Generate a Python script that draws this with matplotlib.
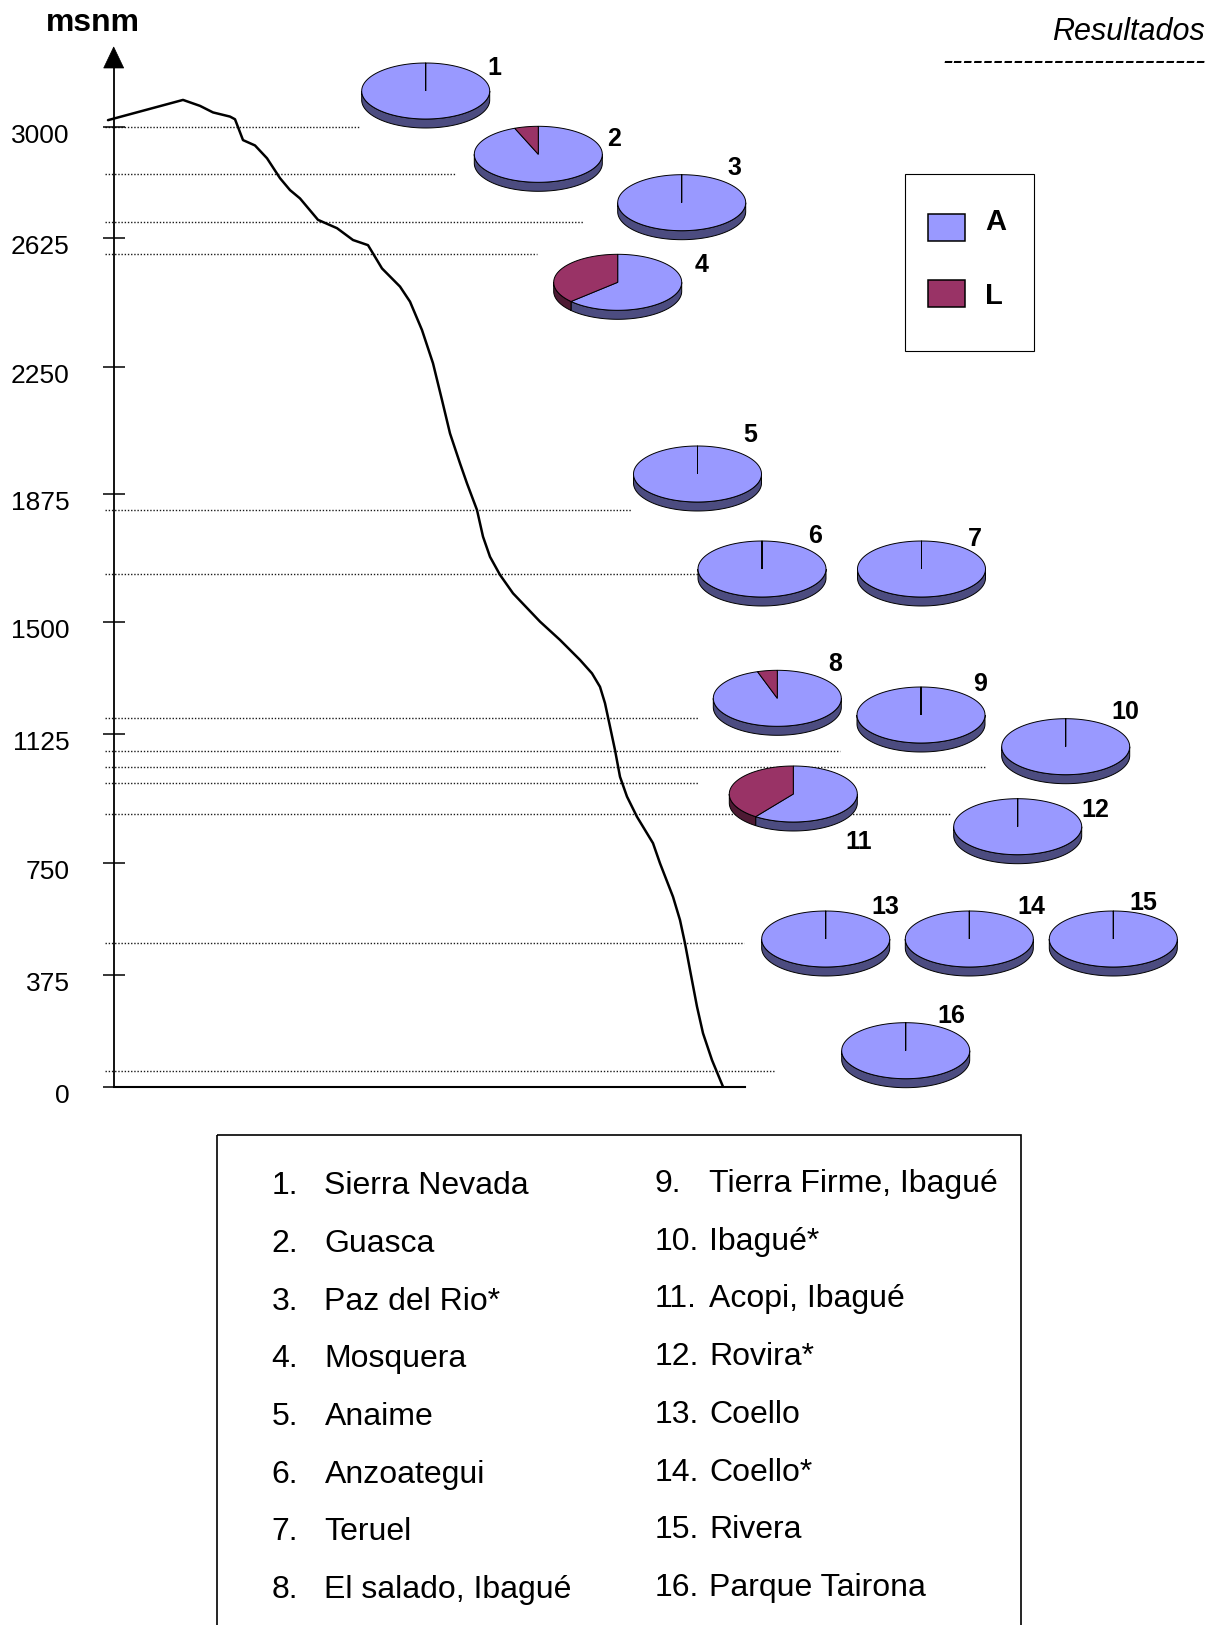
import numpy as np
import matplotlib
matplotlib.use("Agg")
import matplotlib.pyplot as plt
from matplotlib.patches import Polygon, Rectangle
from matplotlib.transforms import offset_copy

plt.rcParams['font.family'] = ['Liberation Sans', 'DejaVu Sans']

# ------------------------------------------------------------------ data
y_label = "msnm"
corner_title = "Resultados"
tick_values = [0, 375, 750, 1125, 1500, 1875, 2250, 2625, 3000]
tick_labels = ["0", "375", "750", "1125", "1500", "1875", "2250", "2625", "3000"]

# altitude profile (horizontal position, altitude in msnm)
profile_x = [108, 183, 200, 213, 230, 235, 243, 255, 267, 280, 290, 300, 318, 337, 353,
             368, 382, 400, 410, 422, 433, 442, 450, 460, 467, 477, 483, 490, 500, 513,
             540, 560, 580, 592, 600, 605, 610, 615, 620, 627, 637, 653, 660, 673, 680,
             685, 690, 697, 703, 712, 723]
profile_alt = [3022, 3090, 3070, 3048, 3034, 3025, 2955, 2937, 2894, 2827, 2787, 2759, 2687,
               2659, 2620, 2605, 2537, 2484, 2440, 2357, 2260, 2152, 2054, 1966, 1907, 1829,
               1751, 1692, 1639, 1585, 1502, 1441, 1374, 1329, 1284, 1229, 1151, 1079, 1001,
               943, 884, 807, 748, 636, 558, 480, 391, 268, 179, 89, 0]

# altitude of the dotted reference levels (msnm)
level_alt = [3000, 2840, 2679, 2578, 1829, 1641, 1178, 1077, 1030, 984, 891, 482, 53]

site_numbers = ["1.", "2.", "3.", "4.", "5.", "6.", "7.", "8.",
                "9.", "10.", "11.", "12.", "13.", "14.", "15.", "16."]
site_names = ["Sierra Nevada", "Guasca", "Paz del Rio*", "Mosquera", "Anaime",
              "Anzoategui", "Teruel", "El salado, Ibagué", "Tierra Firme, Ibagué",
              "Ibagué*", "Acopi, Ibagué", "Rovira*", "Coello", "Coello*", "Rivera",
              "Parque Tairona"]
pie_ids = ["1", "2", "3", "4", "5", "6", "7", "8", "9", "10", "11", "12", "13", "14", "15", "16"]
pct_A = [100, 94, 100, 63, 100, 100, 100, 95, 100, 100, 60, 100, 100, 100, 100, 100]
pct_L = [0, 6, 0, 37, 0, 0, 0, 5, 0, 0, 40, 0, 0, 0, 0, 0]
series_names = ["A", "L"]

# ------------------------------------------------------------------ layout / style
W, H = 1218, 1625
tick_rows = np.array([1086.7, 974.7, 862.7, 734.3, 622.3, 494.3, 366.7, 238.3, 126.7])
level_x0 = 105
level_x1 = [360, 456, 583, 537, 632, 698, 698, 840, 985, 698, 951, 744, 774]
pie_xy = [(425.7, 91), (538.3, 154.3), (681.7, 202.7), (617.7, 282.3), (697.5, 474),
          (762, 569), (921.5, 569), (777.3, 698.3), (921, 715), (1065.7, 746.7),
          (793.3, 794), (1017.7, 826.7), (825.7, 939), (969.3, 939), (1113.3, 939),
          (905.7, 1050.7)]
pie_label_xy = [(494, 66), (614, 137), (734, 166), (702, 263), (750.5, 433), (815, 534),
                (974.5, 537), (835.5, 662), (980, 682), (1125.7, 710), (859, 840),
                (1095, 808), (885.7, 905), (1031.7, 905.7), (1143.3, 901.7), (951.7, 1014)]
face_colors = ['#9999FF', '#993366']
side_colors = ['#4C4C80', '#4D1A33']

tv = np.array(tick_values, float)
top_slope = (tick_rows[-1] - tick_rows[-2]) / (tv[-1] - tv[-2])
bot_slope = (tick_rows[1] - tick_rows[0]) / (tv[1] - tv[0])


def fwd(v):
    v = np.asarray(v, float)
    p = np.interp(v, tv, tick_rows)
    p = np.where(v > tv[-1], tick_rows[-1] + (v - tv[-1]) * top_slope, p)
    p = np.where(v < tv[0], tick_rows[0] + (v - tv[0]) * bot_slope, p)
    return -p


def inv(q):
    p = -np.asarray(q, float)
    v = np.interp(p, tick_rows[::-1], tv[::-1])
    v = np.where(p < tick_rows[-1], tv[-1] + (p - tick_rows[-1]) / top_slope, v)
    v = np.where(p > tick_rows[0], tv[0] + (p - tick_rows[0]) / bot_slope, v)
    return v


fig = plt.figure(figsize=(W / 100, H / 100), dpi=100)
fig.patch.set_facecolor('white')

# ---------------- profile axes (x: horizontal position, y: altitude)
ax = fig.add_axes([0, 0, 1, 1])
ax.set_xlim(0, W)
ax.set_yscale('function', functions=(fwd, inv))
ax.set_ylim(float(inv(-H)), float(inv(0)))
ax.patch.set_visible(False)

ax.hlines(level_alt, level_x0, level_x1, colors='#1a1a1a', linewidth=1.0,
          linestyles=(0, (1, 1.3)), zorder=1)
ax.plot(profile_x, profile_alt, color='black', lw=1.8, solid_joinstyle='round',
        solid_capstyle='round', zorder=3)

axis_x = 113.7
arrow_base_alt = float(inv(-68))
ax.spines['left'].set_position(('data', axis_x))
ax.spines['left'].set_bounds(0, arrow_base_alt)
ax.spines['left'].set_linewidth(1.3)
ax.spines['bottom'].set_position(('data', 0))
ax.spines['bottom'].set_bounds(axis_x, 745)
ax.spines['bottom'].set_linewidth(1.5)
ax.spines['top'].set_visible(False)
ax.spines['right'].set_visible(False)
ax.set_xticks([])
ax.set_yticks(tick_values)
ax.tick_params(axis='y', direction='inout', length=15.8, width=1.1, labelleft=False,
               color='black')
lab_tr = offset_copy(ax.transData, fig=fig, x=0, y=-16, units='dots')
for v, lab in zip(tick_values, tick_labels):
    ax.text(69.5, v, lab, ha='right', va='baseline', fontsize=19, transform=lab_tr)

# ---------------- overlay axes in pixel coordinates for the decorations
ov = fig.add_axes([0, 0, 1, 1])
ov.set_xlim(0, W)
ov.set_ylim(H, 0)
ov.axis('off')
ov.patch.set_alpha(0)

ov.add_patch(Polygon([(axis_x - 10, 68), (axis_x + 10, 68), (axis_x, 47)], closed=True,
                     fc='black', ec='black', lw=0.5))
ov.text(46, 30.7, y_label, fontsize=23, fontweight='bold', ha='left', va='baseline')
ov.text(1205, 40, corner_title, fontsize=22, fontstyle='italic', ha='right', va='baseline')
ov.text(1206, 70, '-' * 26, fontsize=22, fontstyle='italic', ha='right', va='baseline')


def pie3d(cx, cy, values, a=64, b=28, d=9, n=160):
    total = float(sum(values))
    bounds = [-np.pi / 2]
    for val in values:
        bounds.append(bounds[-1] + 2 * np.pi * val / total)
    segs = list(zip(bounds[:-1], bounds[1:]))
    # side band (front half only)
    for (t0, t1), sc in zip(segs, side_colors):
        lo, hi = max(t0, 0.0), min(t1, np.pi)
        if hi > lo:
            t = np.linspace(lo, hi, n)
            xs = cx + a * np.cos(t)
            ys = cy + b * np.sin(t)
            pts = np.column_stack([np.r_[xs, xs[::-1]], np.r_[ys, ys[::-1] + d]])
            ov.add_patch(Polygon(pts, closed=True, fc=sc, ec='black', lw=0.7, zorder=4))
    # top face
    for (t0, t1), fc in zip(segs, face_colors):
        if t1 > t0:
            t = np.linspace(t0, t1, n)
            xs = np.r_[cx, cx + a * np.cos(t)]
            ys = np.r_[cy, cy + b * np.sin(t)]
            ov.add_patch(Polygon(np.column_stack([xs, ys]), closed=True, fc=fc,
                                 ec='black', lw=0.7, zorder=5))


for (cx, cy), pa, pl in zip(pie_xy, pct_A, pct_L):
    pie3d(cx, cy, [pa, pl])
for (lx, ly), pid in zip(pie_label_xy, pie_ids):
    ov.text(lx, ly + 8.7, pid, fontsize=18, fontweight='bold', ha='center',
            va='baseline', zorder=6)

# legend box
ov.add_patch(Rectangle((905, 174), 129, 176.7, fc='white', ec='black', lw=0.8, zorder=4))
for (ry, ly), name, fc in zip([(214.3, 230.5), (280, 303.8)], series_names, face_colors):
    ov.add_patch(Rectangle((927.7, ry), 37.3, 26.5, fc=fc, ec='black', lw=1.1, zorder=5))
    ov.text(985, ly, name, fontsize=21, fontweight='bold', ha='left', va='baseline',
            zorder=5)

# bottom list box
ov.add_patch(Rectangle((217, 1135), 804, 600, fc='none', ec='black', lw=1.2, zorder=4))
step = 57.75
for i in range(8):
    yb = 1182.8 + i * step + 11.2
    ov.text(271.6, yb, site_numbers[i], fontsize=23, ha='left', va='baseline')
    ov.text(324.5, yb, site_names[i], fontsize=23, ha='left', va='baseline')
for i in range(8, 16):
    yb = 1180.7 + (i - 8) * step + 11.2
    ov.text(655, yb, site_numbers[i], fontsize=23, ha='left', va='baseline')
    ov.text(709, yb, site_names[i], fontsize=23, ha='left', va='baseline')

fig.savefig('out.png', dpi=100, facecolor='white')
